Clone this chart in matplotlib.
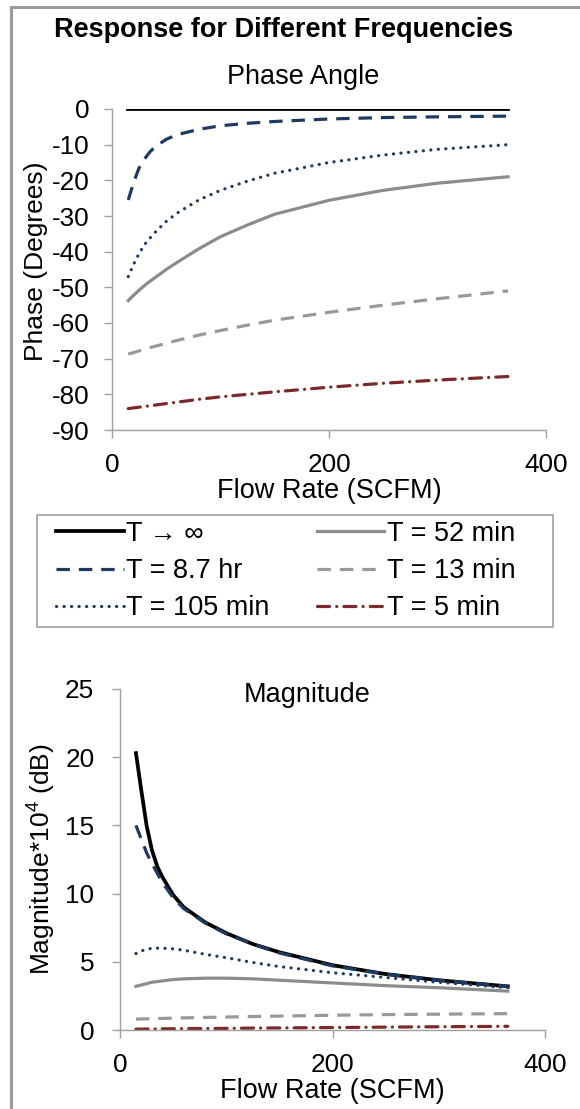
import matplotlib
matplotlib.use("Agg")
import matplotlib.pyplot as plt
from matplotlib.lines import Line2D
from matplotlib.patches import Rectangle

plt.rcParams["font.family"] = ["Liberation Sans", "DejaVu Sans"]
plt.rcParams["axes.unicode_minus"] = False
plt.rcParams["mathtext.fontset"] = "custom"
plt.rcParams["mathtext.rm"] = "Liberation Sans"
plt.rcParams["mathtext.it"] = "Liberation Sans:italic"

# flow rate samples (SCFM)
FLOW = [15, 20, 25, 30, 35, 40, 50, 60, 80, 100, 125, 150, 200, 250, 300, 365]

LABELS = ["T \u2192 \u221e", "T = 8.7 hr", "T = 105 min", "T = 52 min", "T = 13 min", "T = 5 min"]

# phase angle, degrees
PH_INF = [0, 0, 0, 0, 0, 0, 0, 0, 0, 0, 0, 0, 0, 0, 0, 0]
PH_87HR = [-25.5, -20.5, -16.5, -14.0, -12.0, -10.5, -8.5, -7.2, -5.7, -4.7, -4.0, -3.5, -2.8, -2.4, -2.2, -2.0]
PH_105 = [-47.0, -43.5, -40.5, -38.0, -36.2, -34.5, -31.5, -29.2, -25.5, -22.8, -20.2, -18.0, -15.0, -12.9, -11.3, -10.0]
PH_52 = [-53.7, -52.2, -50.8, -49.5, -48.3, -47.2, -45.0, -43.0, -39.2, -35.8, -32.5, -29.5, -25.6, -22.8, -20.8, -19.0]
PH_13 = [-68.7, -68.3, -67.8, -67.4, -66.9, -66.5, -65.7, -64.9, -63.4, -62.1, -60.6, -59.2, -57.0, -55.0, -53.2, -51.0]
PH_5 = [-84.0, -83.8, -83.6, -83.4, -83.2, -83.0, -82.6, -82.2, -81.4, -80.7, -80.0, -79.3, -78.0, -76.9, -76.0, -75.0]

# magnitude * 1e4 (dB)
MG_INF = [20.3, 17.6, 15.0, 13.2, 12.0, 11.2, 9.9, 9.0, 7.9, 7.1, 6.3, 5.7, 4.75, 4.1, 3.65, 3.2]
MG_87HR = [15.0, 14.0, 13.0, 12.2, 11.5, 10.8, 9.7, 8.9, 7.85, 7.05, 6.3, 5.65, 4.7, 4.1, 3.65, 3.2]
MG_105 = [5.6, 5.8, 5.9, 6.0, 6.0, 6.0, 5.95, 5.85, 5.55, 5.3, 4.95, 4.65, 4.2, 3.85, 3.5, 3.1]
MG_52 = [3.2, 3.3, 3.4, 3.5, 3.55, 3.6, 3.7, 3.75, 3.8, 3.8, 3.75, 3.65, 3.45, 3.25, 3.1, 2.85]
MG_13 = [0.80, 0.81, 0.82, 0.83, 0.84, 0.85, 0.87, 0.89, 0.92, 0.95, 0.99, 1.02, 1.08, 1.13, 1.16, 1.2]
MG_5 = [0.06, 0.065, 0.07, 0.075, 0.08, 0.085, 0.09, 0.10, 0.11, 0.12, 0.14, 0.15, 0.18, 0.21, 0.24, 0.27]

NAVY = "#1f3a5f"
GRAY = "#8c8c8c"
RED = "#7b2a2a"
STYLES = [
    dict(color="black", ls="-", lw=2.7),
    dict(color=NAVY, ls=(0, (4.2, 2.8)), lw=2.3),
    dict(color=NAVY, ls=(0, (0.05, 2.3)), dash_capstyle="round", lw=2.3),
    dict(color=GRAY, ls="-", lw=2.3),
    dict(color="#999999", ls=(0, (4.2, 2.8)), lw=2.3),
    dict(color=RED, ls=(0, (3.8, 2.2, 0.05, 2.2)), dash_capstyle="round", lw=2.3),
]

W, H = 580, 1109
FS = 19.5
FS_TICK = 18.8
SPINE = "#a0a0a0"


def style_axes(ax, ypad):
    for s in ("top", "right"):
        ax.spines[s].set_visible(False)
    for s in ("left", "bottom"):
        ax.spines[s].set_color(SPINE)
        ax.spines[s].set_linewidth(1.0)
    ax.tick_params(direction="out", length=5.5, width=1.0, color=SPINE, labelsize=FS_TICK)
    ax.tick_params(axis="y", pad=ypad)
    ax.tick_params(axis="x", pad=11)
    ax.set_xlim(0, 400)
    ax.set_xticks([0, 200, 400])
    ax.set_xlabel("Flow Rate (SCFM)", fontsize=FS)


def main():
    fig = plt.figure(figsize=(W / 100, H / 100), dpi=100)

    # outer border (top and left edges visible)
    fig.add_artist(Line2D([11 / W, 11 / W], [0, 1 - 7 / H], color="#999999", lw=2.2))
    fig.add_artist(Line2D([11 / W, 1], [1 - 7 / H, 1 - 7 / H], color="#999999", lw=2.2))

    fig.text(284 / W, 1 - 30 / H, "Response for Different Frequencies",
             ha="center", va="center", fontsize=19.5, fontweight="bold")

    # phase panel
    ax1 = fig.add_axes([112 / W, 1 - 430 / H, (546 - 112) / W, (430 - 109) / H])
    series = [PH_INF, PH_87HR, PH_105, PH_52, PH_13, PH_5]
    handles = []
    for ys, st, lab in zip(series, STYLES, LABELS):
        ln, = ax1.plot(FLOW, ys, label=lab, **st)
        handles.append(ln)
    style_axes(ax1, 10.5)
    ax1.set_ylim(-90, 0)
    ax1.set_yticks(range(-90, 1, 10))
    ax1.set_ylabel("Phase (Degrees)", fontsize=19)
    ax1.yaxis.set_label_coords(-0.148, 0.525)
    ax1.xaxis.set_label_coords(0.5, -0.15)
    fig.text(303 / W, 1 - 77 / H, "Phase Angle", ha="center", va="center", fontsize=FS)

    # legend box drawn separately so its padding can match the reference
    fig.add_artist(Rectangle((37 / W, 1 - 627 / H), (553 - 37) / W, (627 - 515) / H,
                             transform=fig.transFigure, fill=False,
                             edgecolor="#a0a0a0", lw=1.2))
    fig.legend(handles, LABELS, ncol=2, loc="center left",
               bbox_to_anchor=(56 / W, 1 - 571 / H),
               borderaxespad=0, borderpad=0, fontsize=FS, frameon=False,
               handlelength=2.5, handletextpad=0.08, labelspacing=0.42,
               columnspacing=1.75)

    # magnitude panel
    ax2 = fig.add_axes([120 / W, 1 - 1030 / H, (545 - 120) / W, (1030 - 689) / H])
    series = [MG_INF, MG_87HR, MG_105, MG_52, MG_13, MG_5]
    for ys, st in zip(series, STYLES):
        ax2.plot(FLOW, ys, **st)
    style_axes(ax2, 13)
    ax2.set_ylim(0, 25)
    ax2.set_yticks(range(0, 26, 5))
    ax2.set_ylabel(r"Magnitude*10$^{4}$ (dB)", fontsize=19)
    ax2.yaxis.set_label_coords(-0.146, 0.5)
    ax2.xaxis.set_label_coords(0.5, -0.14)
    fig.text(307 / W, 1 - 695 / H, "Magnitude", ha="center", va="center", fontsize=FS)

    fig.savefig("out.png", dpi=100)
    plt.close(fig)


if __name__ == "__main__":
    main()
